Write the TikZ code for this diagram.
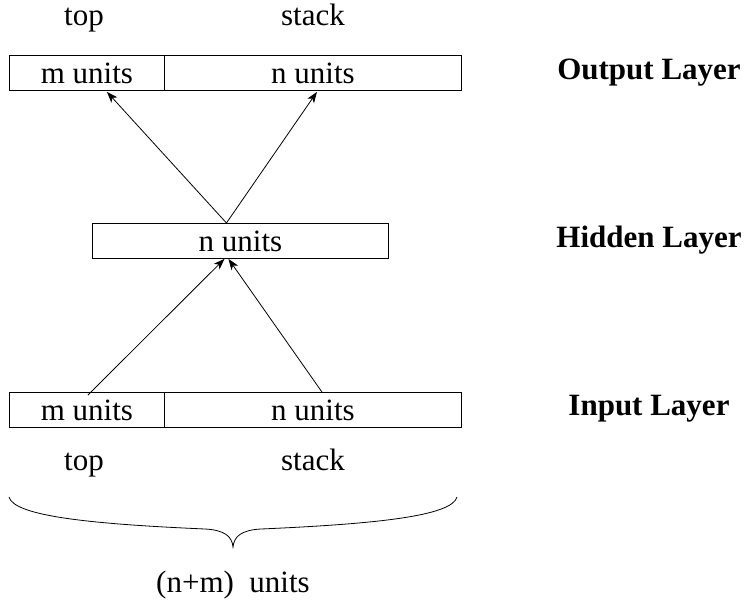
\documentclass[tikz,border=0pt]{standalone}
\usepackage{fontspec}
\setmainfont{Liberation Serif}
\usetikzlibrary{arrows.meta,calc}
\begin{document}
\begin{tikzpicture}[x=1pt,y=-1pt,
  every node/.style={font=\fontsize{31}{36}\selectfont},
  box/.style={draw,line width=0.9pt,inner sep=0pt,minimum height=35pt,anchor=north west},
  lbl/.style={anchor=base},
  layer/.style={anchor=base,font=\fontsize{31}{36}\selectfont\bfseries},
  link/.style={line width=0.8pt,-{Stealth[length=11pt,width=8pt,inset=3pt]}}]
\useasboundingbox (0,0) rectangle (748,600);

% output layer
\node[box,minimum width=155pt] (om) at (9,55) {m units};
\node[box,minimum width=297pt] (on) at (164,55) {n units};
\node[lbl] (otop) at (84,25) {top};
\node[lbl] (ostack) at (313,25) {stack};
\node[layer] (olayer) at (649,79) {Output Layer};

% hidden layer
\node[box,minimum width=296pt] (hid) at (92,223) {n units};
\node[layer] (hlayer) at (649,247) {Hidden Layer};

% input layer
\node[box,minimum width=155pt] (im) at (9,392) {m units};
\node[box,minimum width=297pt] (in) at (164,392) {n units};
\node[lbl] (itop) at (84,470) {top};
\node[lbl] (istack) at (313,470) {stack};
\node[layer] (ilayer) at (649,415) {Input Layer};

% connections
\coordinate (hidtop) at ($(hid.north)+(-14,0)$);
\draw[link] (hidtop) -- ($(om.south)+(20,1)$);
\draw[link] (hidtop) -- ($(on.south)+(4,1)$);
\draw[link] ($(im.north)+(1,3)$) -- ($(hid.south)+(-16,0)$);
\draw[link] ($(in.north)+(9,0)$) -- ($(hid.south)+(-12,0)$);

% brace under the input row
\coordinate (bl) at (9,497);
\coordinate (br) at (457,497);
\coordinate (btip) at (233,547);
\draw[line width=0.8pt] (bl) .. controls (14,516) and (90,524) .. (205,529)
  .. controls (224,530) and (232,536) .. (btip)
  .. controls (234,536) and (242,530) .. (261,529)
  .. controls (376,524) and (452,516) .. (br);
\node[lbl] (total) at (233,592) {(n+m)\ \ units};
\end{tikzpicture}
\end{document}
